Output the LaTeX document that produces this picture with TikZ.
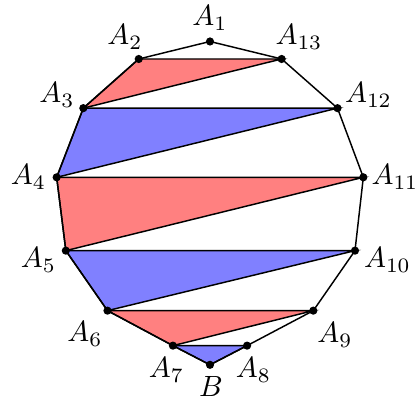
\documentclass[tikz,border=0pt]{standalone}
\begin{document}
\begin{tikzpicture}[line width=0.5pt,
    punto/.style={circle, fill=black, inner sep=0pt, minimum size=2.8pt}]
  \useasboundingbox (-2.52,-2.232) rectangle (2.484,2.568);
  % Vertices
  \coordinate (A1)  at (0,2.07);
  \coordinate (A2)  at (-0.855,1.86);
  \coordinate (A3)  at (-1.52,1.27);
  \coordinate (A4)  at (-1.84,0.44);
  \coordinate (A5)  at (-1.73,-0.44);
  \coordinate (A6)  at (-1.23,-1.16);
  \coordinate (A7)  at (-0.445,-1.58);
  \coordinate (B)   at (0,-1.81);
  \coordinate (A8)  at (0.445,-1.58);
  \coordinate (A9)  at (1.24,-1.16);
  \coordinate (A10) at (1.74,-0.44);
  \coordinate (A11) at (1.84,0.44);
  \coordinate (A12) at (1.53,1.27);
  \coordinate (A13) at (0.86,1.86);

  % Triangles
  \filldraw[fill=red!50]  (A2) -- (A13) -- (A3) -- cycle;
  \filldraw[fill=blue!50] (A3) -- (A12) -- (A4) -- cycle;
  \filldraw[fill=red!50]  (A4) -- (A11) -- (A5) -- cycle;
  \filldraw[fill=blue!50] (A5) -- (A10) -- (A6) -- cycle;
  \filldraw[fill=red!50]  (A6) -- (A9) -- (A7) -- cycle;
  \filldraw[fill=blue!50] (A7) -- (A8) -- (B) -- cycle;

  % Polygon
  \draw (A1) -- (A2) -- (A3) -- (A4) -- (A5) -- (A6) -- (A7) -- (B)
    -- (A8) -- (A9) -- (A10) -- (A11) -- (A12) -- (A13) -- cycle;

  % Points
  \foreach \p in {A1,A2,A3,A4,A5,A6,A7,B,A8,A9,A10,A11,A12,A13}
    \node[punto] (p\p) at (\p) {};

  % Labels
  \foreach \p/\x/\y/\t in {A1/0/2.35/A_1, A2/-1.02/2.124/A_2,
      A3/-1.836/1.428/A_3, A4/-2.178/0.444/A_4, A5/-2.058/-0.552/A_5,
      A6/-1.5/-1.44/A_6, A7/-0.522/-1.872/A_7, B/0.012/-2.076/B,
      A8/0.522/-1.872/A_8, A9/1.5/-1.452/A_9, A10/2.13/-0.552/A_{10},
      A11/2.22/0.444/A_{11}, A12/1.902/1.428/A_{12}, A13/1.068/2.124/A_{13}}
    \node (l\p) at (\x,\y) {$\t$};
\end{tikzpicture}
\end{document}
